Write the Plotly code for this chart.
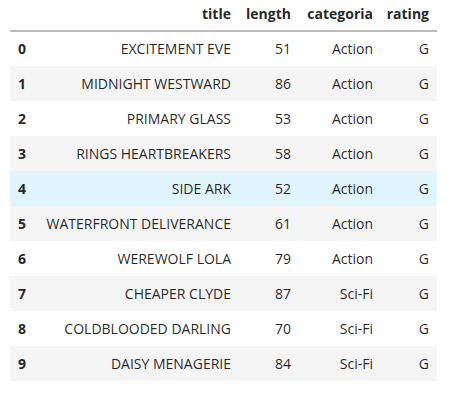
import plotly.graph_objects as go

# DataFrame contents shown in the notebook output.
index = [0, 1, 2, 3, 4, 5, 6, 7, 8, 9]
titles = ['EXCITEMENT EVE', 'MIDNIGHT WESTWARD', 'PRIMARY GLASS',
          'RINGS HEARTBREAKERS', 'SIDE ARK', 'WATERFRONT DELIVERANCE',
          'WEREWOLF LOLA', 'CHEAPER CLYDE', 'COLDBLOODED DARLING',
          'DAISY MENAGERIE']
lengths = [51, 86, 53, 58, 52, 61, 79, 87, 70, 84]
categorias = ['Action', 'Action', 'Action', 'Action', 'Action', 'Action',
              'Action', 'Sci-Fi', 'Sci-Fi', 'Sci-Fi']
ratings = ['G', 'G', 'G', 'G', 'G', 'G', 'G', 'G', 'G', 'G']
columns = ['', 'title', 'length', 'categoria', 'rating']

W, H = 456, 402
left, right = 10, 437
header_h = 31
row_h = 35
text_drop = 4   # plotly puts cell text a bit high, nudge it down
col_widths = [22, 207, 60, 82, 56]
aligns = ['left', 'right', 'right', 'right', 'right']

# Striped rows, with row 4 showing the hover highlight.
row_colors = []
for i in range(len(index)):
    if i == 4:
        row_colors.append('#e1f5fe')
    elif i % 2 == 1:
        row_colors.append('#f5f5f5')
    else:
        row_colors.append('white')
fill = [row_colors] * len(columns)

text_color = 'rgba(0,0,0,0.87)'
clear = 'rgba(0,0,0,0)'

fig = go.Figure()

# header + row stripes
fig.add_trace(go.Table(
    domain=dict(x=[left / W, right / W], y=[0, 1]),
    columnwidth=col_widths,
    header=dict(
        values=columns,
        align=aligns,
        fill_color='white',
        line=dict(color='white', width=0),
        font=dict(family='Open Sans', size=14, color=text_color,
                  weight='bold'),
        height=header_h,
    ),
    cells=dict(
        values=[[''] * len(index)] * len(columns),
        fill=dict(color=fill),
        line=dict(color=fill, width=0),
        height=row_h,
    ),
))

# cell text on top, on a clear background; its blank header is a spacer
fig.add_trace(go.Table(
    domain=dict(x=[left / W, right / W], y=[0, 1]),
    columnwidth=col_widths,
    header=dict(
        values=[''] * len(columns),
        fill=dict(color=clear),
        line=dict(color=clear, width=0),
        height=header_h + text_drop,
    ),
    cells=dict(
        values=[index, titles, lengths, categorias, ratings],
        align=aligns,
        fill=dict(color=clear),
        line=dict(color=clear, width=0),
        # index column is bold like the pandas row labels
        font=dict(family='Open Sans', size=14, color=text_color,
                  weight=['bold', 'normal', 'normal', 'normal', 'normal']),
        height=row_h,
    ),
))

# Grey rule under the header.
fig.add_shape(type='line', xref='paper', yref='paper',
              x0=left / W, x1=right / W,
              y0=1 - header_h / H, y1=1 - header_h / H,
              line=dict(color='#bdbdbd', width=2))

fig.update_layout(
    width=W,
    height=H,
    margin=dict(l=0, r=0, t=0, b=0),
    paper_bgcolor='white',
)

# drop the browser's default 8px body margin so the figure sits at 0,0
fig.write_html('out.html', config={'displayModeBar': False},
               post_script="document.body.style.margin='0';")
